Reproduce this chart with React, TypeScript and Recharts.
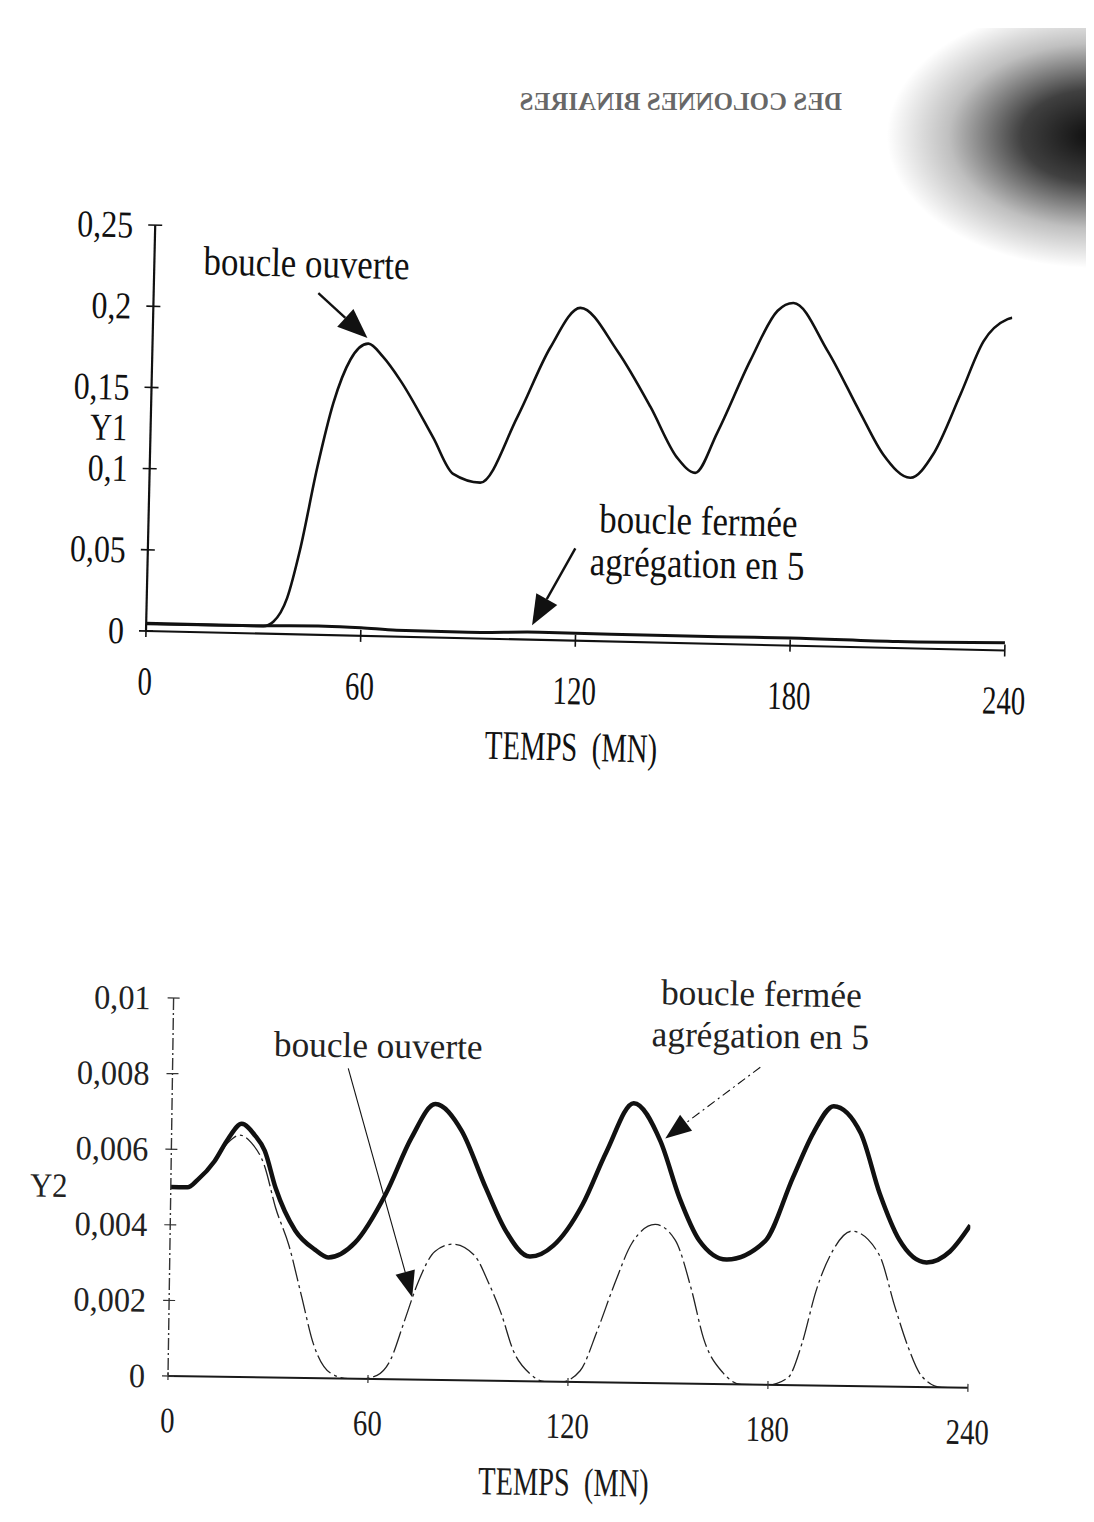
import React from 'react';
import { LineChart, Line, XAxis, YAxis, ReferenceLine, ReferenceDot } from 'recharts';

const FONT = '"Liberation Serif", "Times New Roman", serif';

// ---------- Top chart (Y1) ----------
const y1OpenT = [0, 15, 32.7, 35.5, 39.2, 42.5, 46.8, 50.9, 55.4, 60.3, 64.5, 69.4, 79, 84.8, 92.4, 102.4, 111.1, 119.3, 129.9, 139.5, 147.3, 152.4, 158.3, 167.1, 174.4, 178.8, 188.6, 198.2, 204.8, 212.5, 218.8, 226, 232.1, 238.7, 240];
const y1OpenV = [0.0043, 0.0045, 0.0046, 0.0075, 0.0222, 0.052, 0.103, 0.143, 0.17, 0.18, 0.172, 0.158, 0.123, 0.101, 0.096, 0.137, 0.18, 0.205, 0.179, 0.145, 0.114, 0.105, 0.13, 0.175, 0.206, 0.211, 0.182, 0.144, 0.119, 0.105, 0.12, 0.157, 0.19, 0.204, 0.205];
const y1ClosedT = [0, 30, 50, 60, 70, 90, 110, 130, 160, 180, 210, 240];
const y1ClosedV = [0.0047, 0.0048, 0.0055, 0.005, 0.004, 0.0037, 0.0048, 0.0045, 0.0045, 0.0047, 0.004, 0.0048];
const y1Ticks = [0, 0.05, 0.1, 0.15, 0.2, 0.25];
const y1TickLabels = ['0', '0,05', '0,1', '0,15', '0,2', '0,25'];

// ---------- Bottom chart (Y2) ----------
const y2ClosedT = [0, 5, 8, 13, 17, 21, 25, 28, 31.5, 37.5, 43.5, 47.5, 55.5, 64.5, 72, 79, 87, 94.5, 100.5, 108, 115, 123.6, 130.5, 138.5, 146.7, 152.7, 158.7, 167, 178.5, 186.6, 192.6, 198.5, 206.7, 212.7, 218.7, 227, 234, 240];
const y2ClosedV = [0.005, 0.005, 0.0052, 0.0057, 0.0063, 0.0067, 0.0064, 0.006, 0.005, 0.0039, 0.0034, 0.0032, 0.0036, 0.0049, 0.0064, 0.0073, 0.0066, 0.0051, 0.004, 0.0033, 0.0036, 0.0047, 0.0061, 0.0074, 0.0064, 0.0049, 0.0038, 0.0033, 0.0038, 0.0055, 0.0067, 0.0074, 0.0067, 0.0051, 0.0039, 0.0033, 0.0036, 0.0043];
const y2OpenT = [0, 5, 8, 13, 17, 20.5, 24, 28, 31.5, 35.7, 39.6, 43.5, 48.6, 54, 58, 62.7, 66.6, 70.5, 74.7, 79.5, 85, 91.5, 95.7, 99.6, 103.5, 108.6, 113, 118, 123.6, 128.7, 133.5, 138.6, 145.5, 151.5, 156.6, 160.5, 166.5, 172, 180, 186, 190, 194, 199, 204.5, 212.7, 217.8, 221.7, 226, 232, 240];
const y2OpenV = [0.005, 0.005, 0.0052, 0.0057, 0.0062, 0.0064, 0.0062, 0.0056, 0.0045, 0.0035, 0.0022, 0.0009, 0.00015, 0, 0, 0.0001, 0.0005, 0.0015, 0.0026, 0.0034, 0.0036, 0.0033, 0.0026, 0.0018, 0.0008, 0.0002, 0, 0, 0.0003, 0.0014, 0.0026, 0.0037, 0.0042, 0.0038, 0.0025, 0.0012, 0.0003, 0, 0, 0.0002, 0.0011, 0.0025, 0.0036, 0.0041, 0.0035, 0.0021, 0.0011, 0.0003, 0, 0];
const y2Ticks = [0, 0.002, 0.004, 0.006, 0.008, 0.01];
const y2TickLabels = ['0', '0,002', '0,004', '0,006', '0,008', '0,01'];

const xTicks = [0, 60, 120, 180, 240];
const xTickLabels = ['0', '60', '120', '180', '240'];

// annotations (data coordinates)
const topTexts = [
  { t: 42.5, v: 0.2288, text: 'boucle ouverte' },
  { t: 153.6, v: 0.0757, text: 'boucle fermée' },
  { t: 153.5, v: 0.0493, text: 'agrégation en 5' },
];
const topArrows = [
  { from: [46, 0.2104], to: [60, 0.1834] },
  { from: [119.4, 0.0569], to: [107.8, 0.0089] },
];
const bottomTexts = [
  { t: 61.6, v: 0.00883, text: 'boucle ouverte' },
  { t: 176.3, v: 0.01035, text: 'boucle fermée' },
  { t: 176.2, v: 0.00924, text: 'agrégation en 5' },
];
const bottomArrows = [
  { from: [52.7, 0.00821], to: [72.9, 0.00218], dash: '' },
  { from: [176.3, 0.0084], to: [148.1, 0.00648], dash: '9 4 2 4' },
];

const zip = (ts: number[], vs: number[]) => ts.map((t, i) => ({ t, v: vs[i] }));
const y1Open = zip(y1OpenT, y1OpenV);
const y1Closed = zip(y1ClosedT, y1ClosedV);
const y2Open = zip(y2OpenT, y2OpenV);
const y2Closed = zip(y2ClosedT, y2ClosedV);

const findLabel = (ticks: number[], labels: string[], v: number) => {
  const i = ticks.findIndex((t) => Math.abs(t - v) < 1e-9);
  return i >= 0 ? labels[i] : String(v);
};

type STProps = { x: number; y: number; size: number; sx?: number; anchor?: 'start' | 'middle' | 'end'; fill?: string; weight?: number; children: React.ReactNode };
const SText = ({ x, y, size, sx = 0.84, anchor = 'middle', fill = '#111', weight = 400, children }: STProps) => (
  <text transform={`translate(${x},${y}) scale(${sx},1)`} x={0} y={0} dy="0.34em" textAnchor={anchor} fontSize={size} fontFamily={FONT} fill={fill} fontWeight={weight}>
    {children}
  </text>
);

type TickCfg = { margin: number; half: number; size: number; sx: number; fill: string; stroke: string; sw: number };
const makeYTick = (ticks: number[], labels: string[], c: TickCfg) => (props: any) => {
  const { x, y, payload } = props;
  const ax = x + c.margin;
  return (
    <g>
      <line x1={ax - c.half} x2={ax + c.half} y1={y} y2={y} stroke={c.stroke} strokeWidth={c.sw} />
      <SText x={x} y={y} size={c.size} sx={c.sx} anchor="end" fill={c.fill}>{findLabel(ticks, labels, payload.value)}</SText>
    </g>
  );
};
const makeXTick = (ticks: number[], labels: string[], c: TickCfg) => (props: any) => {
  const { x, y, payload } = props;
  const ay = y - c.margin;
  return (
    <g>
      <line x1={x} x2={x} y1={ay - c.half} y2={ay + c.half} stroke={c.stroke} strokeWidth={c.sw} />
      <SText x={x} y={y} size={c.size} sx={c.sx} anchor="middle" fill={c.fill}>{findLabel(ticks, labels, payload.value)}</SText>
    </g>
  );
};

const ArrowShape = (p: any) => {
  const { x1, y1, x2, y2, color, width, head, headW, dash } = p;
  const dx = x2 - x1;
  const dy = y2 - y1;
  const L = Math.hypot(dx, dy) || 1;
  const ux = dx / L;
  const uy = dy / L;
  const bx = x2 - ux * head;
  const by = y2 - uy * head;
  const px = (-uy * headW) / 2;
  const py = (ux * headW) / 2;
  return (
    <g>
      <line x1={x1} y1={y1} x2={bx} y2={by} stroke={color} strokeWidth={width} strokeDasharray={dash || undefined} />
      <polygon points={`${x2},${y2} ${bx + px},${by + py} ${bx - px},${by - py}`} fill={color} />
    </g>
  );
};

const TopChart = () => (
  <LineChart width={1060} height={600} margin={{ top: 40, right: 65, bottom: 34, left: 26 }}>
    <XAxis
      dataKey="t"
      type="number"
      domain={[0, 240]}
      ticks={xTicks}
      interval={0}
      allowDataOverflow
      height={120}
      tickSize={0}
      tickMargin={50}
      tickLine={false}
      axisLine={{ stroke: '#111', strokeWidth: 2.2 }}
      tick={makeXTick(xTicks, xTickLabels, { margin: 50, half: 6, size: 40, sx: 0.72, fill: '#111', stroke: '#111', sw: 1.6 })}
      label={(p: any) => {
        const vb = p.viewBox || { x: 0, y: 0, width: 0 };
        return <SText x={vb.x + vb.width / 2 - 2} y={vb.y + 106} size={41} sx={0.7}>{'TEMPS\u00A0\u00A0(MN)'}</SText>;
      }}
    />
    <YAxis
      type="number"
      domain={[0, 0.25]}
      ticks={y1Ticks}
      interval={0}
      allowDataOverflow
      width={110}
      tickSize={0}
      tickMargin={22}
      tickLine={false}
      axisLine={{ stroke: '#111', strokeWidth: 2.2 }}
      tick={makeYTick(y1Ticks, y1TickLabels, { margin: 22, half: 7, size: 38, sx: 0.84, fill: '#111', stroke: '#111', sw: 1.6 })}
      label={(p: any) => {
        const vb = p.viewBox || { x: 0, y: 0, height: 0 };
        return <SText x={vb.x + 68} y={vb.y + vb.height / 2} size={38} sx={0.8}>Y1</SText>;
      }}
    />
    <Line data={y1Closed} dataKey="v" type="monotone" stroke="#111" strokeWidth={3} dot={false} isAnimationActive={false} />
    <Line data={y1Open} dataKey="v" type="monotone" stroke="#111" strokeWidth={2.6} dot={false} isAnimationActive={false} />
    {topArrows.map((a, i) => (
      <ReferenceLine
        key={'ta' + i}
        segment={[{ x: a.from[0], y: a.from[1] }, { x: a.to[0], y: a.to[1] }]}
        ifOverflow="visible"
        shape={(p: any) => <ArrowShape {...p} color="#111" width={2.4} head={30} headW={24} />}
      />
    ))}
    {topTexts.map((a, i) => (
      <ReferenceDot
        key={'tt' + i}
        x={a.t}
        y={a.v}
        r={0}
        ifOverflow="visible"
        shape={(p: any) => <SText x={p.cx} y={p.cy} size={41} sx={0.85}>{a.text}</SText>}
      />
    ))}
  </LineChart>
);

const BottomChart = () => (
  <LineChart width={1060} height={560} margin={{ top: 38, right: 102, bottom: 34, left: 38 }}>
    <XAxis
      dataKey="t"
      type="number"
      domain={[0, 240]}
      ticks={xTicks}
      interval={0}
      allowDataOverflow
      height={110}
      tickSize={0}
      tickMargin={44}
      tickLine={false}
      axisLine={{ stroke: '#1a1a1a', strokeWidth: 2 }}
      tick={makeXTick(xTicks, xTickLabels, { margin: 44, half: 4, size: 36, sx: 0.8, fill: '#1a1a1a', stroke: '#333', sw: 1.2 })}
      label={(p: any) => {
        const vb = p.viewBox || { x: 0, y: 0, width: 0 };
        return <SText x={vb.x + vb.width / 2 - 3} y={vb.y + 100} size={40} sx={0.71} fill="#1a1a1a">{'TEMPS\u00A0\u00A0(MN)'}</SText>;
      }}
    />
    <YAxis
      type="number"
      domain={[0, 0.01]}
      ticks={y2Ticks}
      interval={0}
      allowDataOverflow
      width={120}
      tickSize={0}
      tickMargin={23}
      tickLine={false}
      axisLine={{ stroke: '#333', strokeWidth: 1.4, strokeDasharray: '12 3 2 3' }}
      tick={makeYTick(y2Ticks, y2TickLabels, { margin: 23, half: 6, size: 34, sx: 0.95, fill: '#222', stroke: '#333', sw: 1.2 })}
      label={(p: any) => {
        const vb = p.viewBox || { x: 0, y: 0, height: 0 };
        return <SText x={vb.x - 2} y={vb.y + vb.height / 2} size={34} sx={0.9} fill="#222">Y2</SText>;
      }}
    />
    <Line data={y2Open} dataKey="v" type="monotone" stroke="#222" strokeWidth={1.3} strokeDasharray="22 4 3 4" dot={false} isAnimationActive={false} />
    <Line data={y2Closed} dataKey="v" type="monotone" stroke="#111" strokeWidth={4.5} dot={false} isAnimationActive={false} />
    {bottomArrows.map((a, i) => (
      <ReferenceLine
        key={'ba' + i}
        segment={[{ x: a.from[0], y: a.from[1] }, { x: a.to[0], y: a.to[1] }]}
        ifOverflow="visible"
        shape={(p: any) => <ArrowShape {...p} color="#111" width={1.1} head={26} headW={20} dash={a.dash} />}
      />
    ))}
    {bottomTexts.map((a, i) => (
      <ReferenceDot
        key={'bt' + i}
        x={a.t}
        y={a.v}
        r={0}
        ifOverflow="visible"
        shape={(p: any) => <SText x={p.cx} y={p.cy} size={36} sx={0.98} fill="#222">{a.text}</SText>}
      />
    ))}
  </LineChart>
);

export default function App() {
  return (
    <div style={{ position: 'relative', width: 1086, height: 1506, background: '#fff', overflow: 'hidden' }}>
      <div
        style={{
          position: 'absolute',
          left: 790,
          top: 20,
          width: 296,
          height: 240,
          background: 'radial-gradient(ellipse 70% 55% at 100% 45%, rgba(0,0,0,0.95) 0%, rgba(0,0,0,0.75) 35%, rgba(0,0,0,0.25) 70%, rgba(0,0,0,0) 100%)',
        }}
      />
      <div
        style={{
          position: 'absolute',
          left: 472,
          top: 80,
          width: 362,
          transform: 'scaleX(-1)',
          fontFamily: FONT,
          fontSize: 25,
          fontWeight: 700,
          color: 'rgba(0,0,0,0.6)',
          whiteSpace: 'nowrap',
          textAlign: 'left',
        }}
      >
        DES COLONNES BINAIRES
      </div>
      <div style={{ position: 'absolute', left: 2, top: 177, transform: 'rotate(1.3deg)', transformOrigin: '136px 446px' }}>
        <TopChart />
      </div>
      <div style={{ position: 'absolute', left: 2, top: 952, transform: 'rotate(0.85deg)', transformOrigin: '158px 416px' }}>
        <BottomChart />
      </div>
    </div>
  );
}
